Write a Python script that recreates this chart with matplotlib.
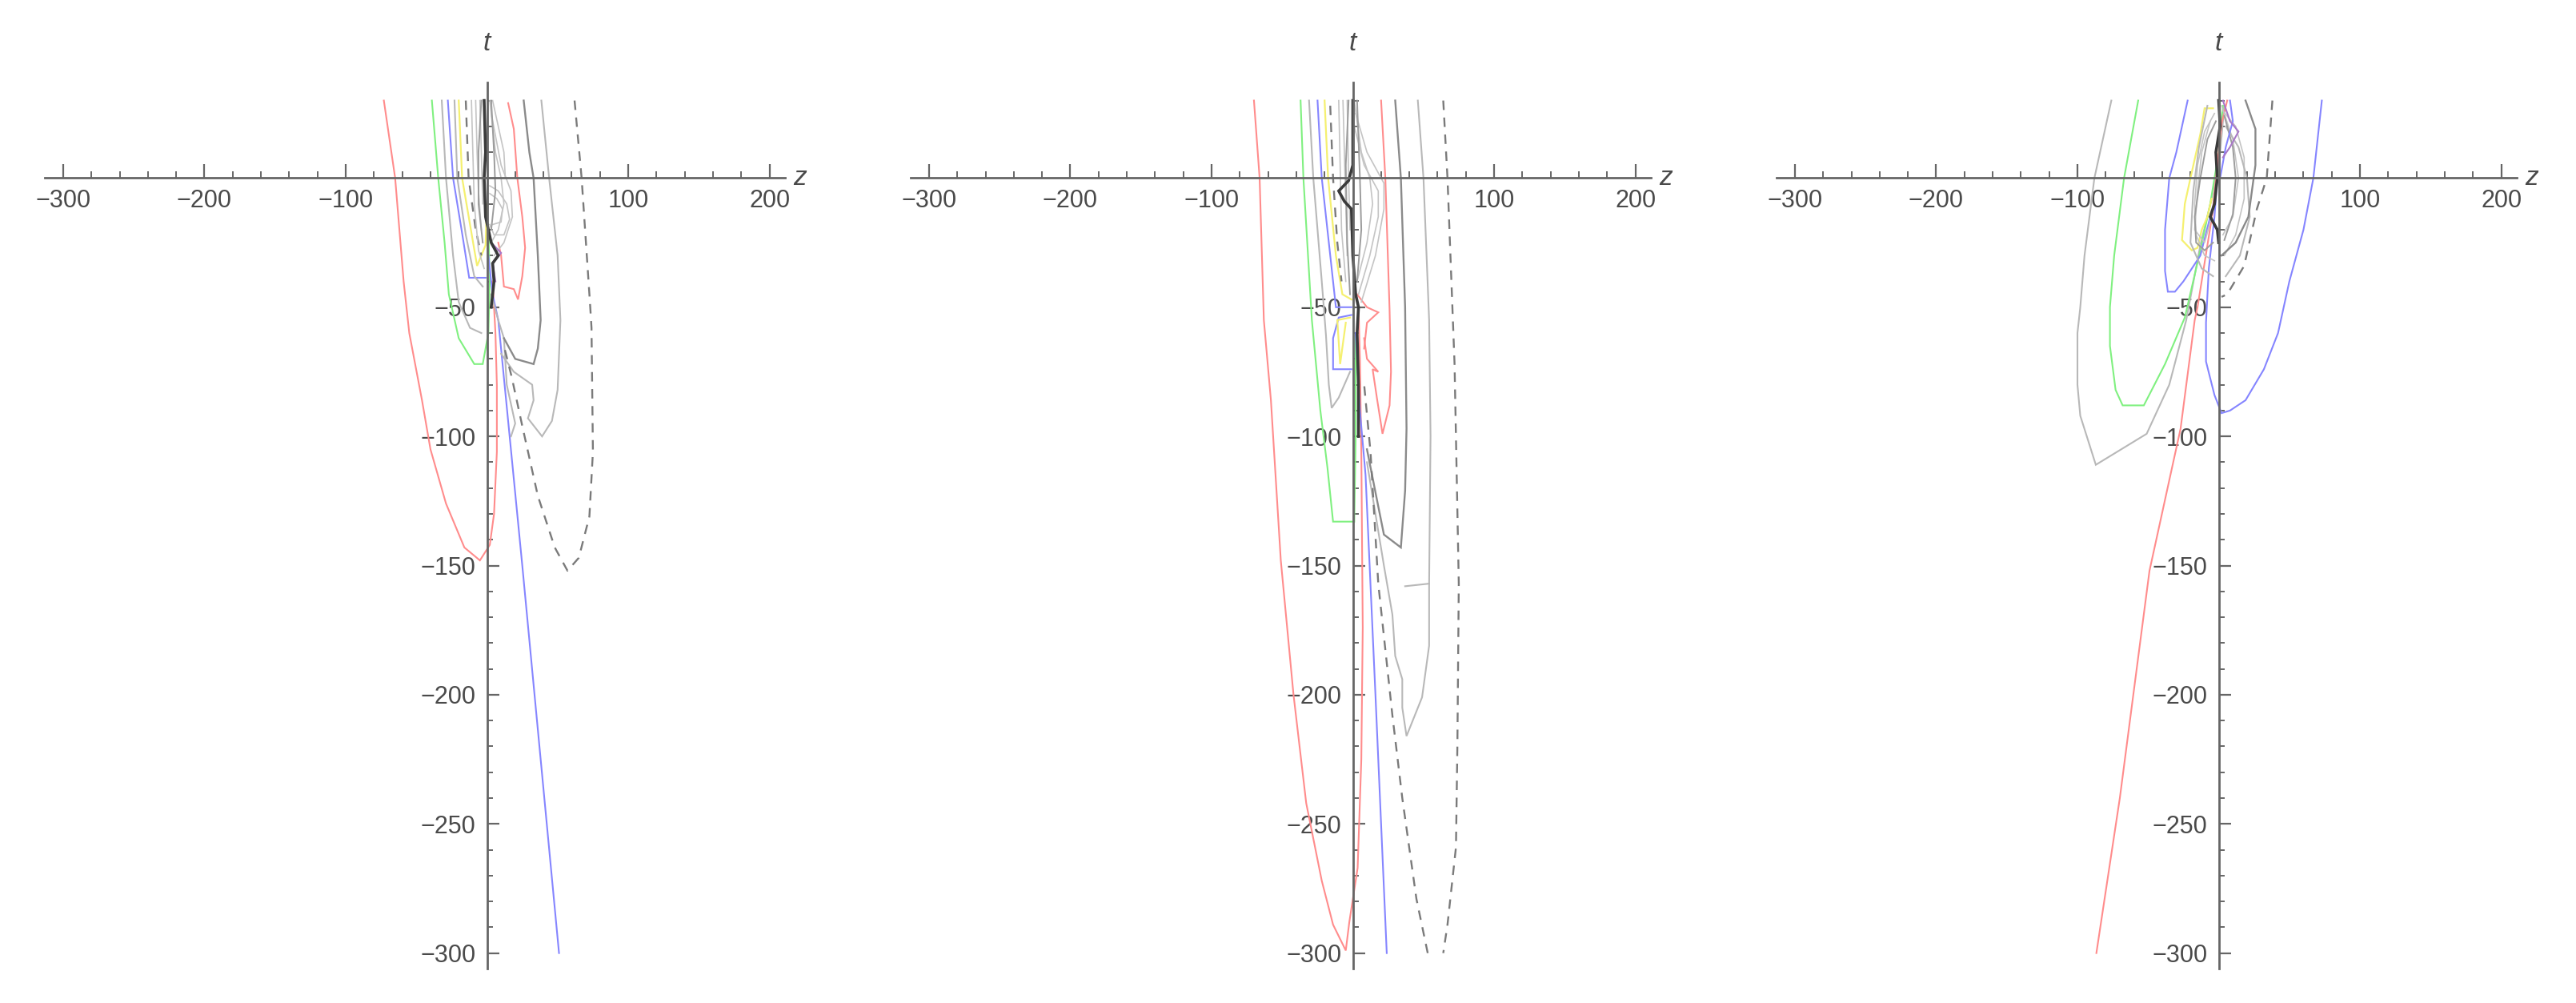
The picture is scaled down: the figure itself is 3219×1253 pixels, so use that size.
import matplotlib.pyplot as plt
from matplotlib.ticker import FixedLocator, NullFormatter

# ---------------------------------------------------------------
# contour lines, as (z, t) points
# ---------------------------------------------------------------

# --- panel 1 ---
p1_red_outer = [(-73, 30), (-65, 0), (-59, -40), (-55, -60), (-46, -86), (-40, -105), (-29, -126),
                (-16, -143), (-5, -148), (2, -142), (5, -130), (7, -106), (7, -80), (6, -60), (4, -40)]
p1_red_right = [(15, 29), (19, 19), (21.5, 0), (25, -15), (27, -27), (25, -38), (22, -47), (19, -43),
                (12, -42), (10, -30), (8, -25)]
p1_green = [(-39, 30), (-34.5, 0), (-30, -25), (-27, -45), (-20, -62), (-9, -72), (-3, -72), (1, -60),
            (2, -40), (1, -20)]
p1_blue_top = [(-27.7, 30), (-24, 0), (-18, -20), (-12.6, -38.6), (-1, -38.6)]
p1_blue_low = [(1, -30), (4, -45), (8, -55), (25, -150), (51, -300)]
p1_yellow = [(-20, 30), (-17.6, 0), (-12, -18), (-7, -34), (-1, -26), (0, -10)]
p1_gray_dark = [(26, 30), (30, 10), (33, 0), (36, -30), (38, -55), (36, -66), (33, -72), (20, -70), (12, -62)]
p1_gray_light = [(38.5, 30), (44, 0), (50, -30), (52, -55), (50, -82), (46, -94), (39, -100), (29, -93),
                 (33, -86), (32, -80), (19, -75), (10, -68)]
p1_dashed = [(62, 30), (67, 0), (73, -49), (74, -58), (75, -106), (72.5, -131), (65, -147), (57, -152),
             (48, -143), (36, -123), (25, -96), (17.5, -77), (12, -65)]
p1_gray_left_a = [(-32, 30), (-29, 0), (-24, -30), (-20, -48), (-12, -58), (-4, -60)]
p1_gray_left_b = [(-23, 30), (-21, 0), (-15, -22), (-9, -38), (-3, -42)]
p1_dashed_left = [(-15, 30), (-13, 0), (-8, -20), (-4, -30)]
p1_gray_c1 = [(2, 30), (6, 10), (10, 0), (12, -10), (8, -20), (3, -25)]
p1_gray_c2 = [(3, 25), (10, 5), (17, -5), (18, -15), (12, -25), (5, -30)]
p1_gray_c3 = [(-8, 30), (-7, 10), (-6, -5), (-4, -20)]
p1_gray_c4 = [(-11, 30), (-10, 10), (-9, -10), (-6, -28), (-2, -35)]
p1_gray_c5 = [(-5, 30), (-4, 10), (-3, -10)]
p1_gray_c6 = [(4, 30), (8, 20), (12, 10), (13, 0)]
p1_dark_a = [(-4, 30), (-6, 10), (-6, -10), (-3, -25)]
p1_dark_b = [(3, 30), (5, 10), (6, -5), (3, -20)]
p1_blob_a = [(2, -3), (8, -5), (14, -10), (16, -16), (12, -22), (5, -22), (2, -18)]
p1_blob_b = [(2, -6), (7, -8), (11, -12), (10, -17), (4, -18)]
p1_gray_low = [(3, -45), (8, -55), (12, -62), (14, -80), (20, -95), (17, -100)]
p1_black = [(-2, 30), (-1, 10), (-2, 0), (-1, -15), (3, -25), (8, -30), (4, -33), (5, -40), (3, -50)]
p1_purple = [(3, -25), (10, -29), (4, -33), (6, -40)]

# --- panel 2 ---
p2_red_outer = [(-70, 30), (-66, 0), (-63, -55), (-58, -86), (-51, -148), (-42, -200), (-33, -242),
                (-22, -272), (-14, -289), (-5, -299), (-2.5, -288), (3.4, -267), (6, -225), (7, -174),
                (6, -106), (5, -70), (4, -50)]
p2_red_right = [(20, 30), (23, 0), (26, -51), (27, -75), (26, -88), (21, -99), (17, -85), (14, -74),
                (18, -75), (10, -70), (8, -62)]
p2_red_star = [(3, -45), (10, -50), (18, -52), (10, -56), (8, -66)]
p2_green = [(-37, 30), (-35, 0), (-29, -55), (-23, -90), (-18, -112), (-14, -133), (1, -133), (2, -100),
            (2, -60)]
p2_blue_top = [(-25, 30), (-22, 0), (-17, -25), (-12, -50), (-1, -50)]
p2_blue_mid = [(-1, -53), (-10, -54), (-14, -62), (-14, -74), (-1, -74)]
p2_blue_low = [(2, -60), (5, -90), (9, -115), (16, -200), (24, -300)]
p2_yellow_top = [(-20, 30), (-17.5, 0), (-12, -30), (-7.4, -45), (-1, -47)]
p2_yellow_bot = [(-2, -54), (-11, -55), (-9, -72), (-5, -56)]
p2_gray_dark = [(30, 30), (34, 0), (37, -50), (38, -97), (37, -121), (34, -143), (22, -138),
                (16.5, -123), (10, -105)]
p2_gray_light_a = [(46, 30), (50, 0), (54, -55), (55, -100), (54, -157), (37, -158)]
p2_gray_light_b = [(54, -157), (54, -181), (49, -201), (38, -216), (35, -205), (35, -194), (30, -185),
                   (28, -169), (22, -150), (16, -130), (10, -110)]
p2_dashed = [(64, 30), (67, 0), (72, -72), (75, -157), (74, -220), (73, -259), (67, -289), (64, -300)]
p2_dashed_branch = [(53, -300), (45, -279), (35, -240), (28, -208), (18, -157), (12.5, -106), (8, -80)]
p2_gray_left = [(-31, 30), (-28, 0), (-22, -40), (-19, -61), (-17, -80), (-15, -89), (-10, -85), (-2, -75)]
p2_dashed_left = [(-16, 28), (-14, 0), (-11, -25), (-8, -40)]
p2_gray_c1 = [(1, 30), (6, 10), (12, 0), (14, -10), (10, -25), (3, -40)]
p2_gray_c2 = [(1, 20), (8, 5), (18, -5), (18, -15), (12, -30), (4, -45)]
p2_gray_c3 = [(-7, 30), (-6, 10), (-5, -10), (-4, -30)]
p2_gray_c4 = [(2, 25), (10, 10), (22, -2), (22, -12), (16, -30), (6, -48)]
p2_gray_c5 = [(-10, 30), (-9, 5), (-8, -20), (-5, -40)]
p2_gray_c6 = [(-4, 30), (-3, 0), (-2, -20)]
p2_dark_a = [(-3, 30), (-5, 5), (-4, -25), (-2, -45)]
p2_dark_b = [(3, 30), (5, 0), (6, -20), (3, -40)]
p2_black = [(0, 30), (0, 5), (-3, -1), (-10, -5), (-6, -9), (-1, -12), (0, -30), (2, -45), (4, -50),
            (3, -60), (4, -80), (4, -100)]

# --- panel 3 ---
p3_red = [(-86.6, -300), (-70, -240), (-49, -152), (-27, -97), (-17, -55), (-15, -50), (-4.5, -14),
          (2, 21), (6, 30)]
p3_green = [(-57, 30), (-67, 0), (-74, -30), (-77, -50), (-77, -65), (-73, -82), (-68, -88), (-53, -88),
            (-38, -72), (-24, -54), (-13, -28), (-6, -10), (0, 10), (3, 28)]
p3_gray_outer = [(-76, 30), (-88, 0), (-95, -30), (-98, -50), (-100, -60), (-100, -80), (-98, -92),
                 (-87, -111), (-51, -99), (-35, -80), (-23, -55), (-13, -26), (-5, -8), (1, 10), (4, 28)]
p3_blue_left = [(-22, 30), (-30, 10), (-35, 0), (-38, -20), (-38, -36), (-36, -44), (-31, -44),
                (-25, -40), (-13, -30), (-6, -15)]
p3_blue_right = [(73, 30), (67, 0), (60, -20), (50, -40), (42, -60), (32, -74), (19, -86), (8, -90),
                 (2, -91), (-3, -84), (-9, -71), (-9, -56), (-7, -35), (-3, -15), (-1, 0)]
p3_blue_top = [(1, 0), (5, 12), (10, 22), (8, 30)]
p3_yellow = [(-4, 27), (-10, 27), (-13, 17), (-20, 0), (-24, -10), (-26, -24), (-19, -28), (-15, -27),
             (-12, -20), (-8, -15), (-5, -8)]
p3_dashed = [(38, 30), (34, 0), (27, -12), (18, -34), (6, -45), (2, -46)]
p3_gray_right = [(19, 30), (26, 19), (26, 5), (21, -15), (12, -25), (2, -30)]
p3_gray_in = [(-6, 22), (-12, 10), (-15, -5), (-17, -20), (-10, -25), (-5, -15)]
p3_gray_c1 = [(2, 28), (10, 15), (14, 0), (10, -15), (3, -22)]
p3_loop_a = [(-3, 25), (-10, 18), (-15, 5), (-17, -10), (-16, -22), (-10, -30), (-3, -32)]
p3_loop_b = [(3, 26), (12, 20), (18, 8), (18, -8), (12, -22), (4, -30)]
p3_loop_c = [(5, 20), (14, 12), (20, 0), (22, -15), (15, -30), (5, -38)]
p3_gray_mid = [(-8, 28), (-14, 12), (-18, -5), (-20, -25), (-12, -35), (-4, -38)]
p3_dark_a = [(-2, 22), (-8, 15), (-13, 0), (-17, -15), (-16, -25), (-10, -28), (-4, -25)]
p3_dark_b = [(4, 24), (10, 12), (12, 0), (10, -14), (4, -24)]
p3_black = [(0, 30), (1, 20), (-2, 10), (-1, 0), (-3, -10), (-6, -15), (-1, -20), (0, -25)]
p3_purple = [(3, 30), (8, 22), (14, 18), (8, 12), (3, 8)]

# axis ticks
x_major = [-300, -200, -100, 100, 200]
x_minor = [v for v in range(-300, 201, 20) if v % 100 != 0]
y_major = [-300, -250, -200, -150, -100, -50]
y_minor = [v for v in range(-300, 31, 10) if v % 50 != 0]

STYLE = {
    'red': dict(color='#ff8c8c', lw=1.5, ls='-'),
    'green': dict(color='#80f080', lw=1.5, ls='-'),
    'blue': dict(color='#8585ff', lw=1.5, ls='-'),
    'yellow': dict(color='#f5f070', lw=1.6, ls='-'),
    'gdark': dict(color='#8a8a8a', lw=1.7, ls='-'),
    'gmid': dict(color='#9c9c9c', lw=1.4, ls='-'),
    'glight': dict(color='#b8b8b8', lw=1.5, ls='-'),
    'gpale': dict(color='#c4c4c4', lw=1.2, ls='-'),
    'dash': dict(color='#7a7a7a', lw=1.7, ls=(0, (5, 4))),
    'black': dict(color='#3a3a3a', lw=2.6, ls='-'),
    'purple': dict(color='#a878c8', lw=1.5, ls='-'),
}

panels = [
    [(p1_red_outer, 'red'), (p1_red_right, 'red'), (p1_green, 'green'), (p1_gray_left_a, 'glight'),
     (p1_blue_top, 'blue'), (p1_blue_low, 'blue'), (p1_gray_left_b, 'glight'), (p1_yellow, 'yellow'),
     (p1_dashed_left, 'dash'), (p1_gray_c1, 'gpale'), (p1_gray_c2, 'gpale'), (p1_gray_c3, 'gpale'),
     (p1_gray_c4, 'gpale'), (p1_gray_c5, 'gpale'), (p1_gray_c6, 'gpale'), (p1_blob_a, 'gpale'),
     (p1_blob_b, 'gpale'), (p1_dark_a, 'gmid'), (p1_dark_b, 'gmid'), (p1_gray_low, 'glight'),
     (p1_gray_dark, 'gdark'), (p1_gray_light, 'glight'), (p1_dashed, 'dash'), (p1_purple, 'purple'),
     (p1_black, 'black')],
    [(p2_red_outer, 'red'), (p2_red_right, 'red'), (p2_red_star, 'red'), (p2_green, 'green'),
     (p2_gray_left, 'glight'), (p2_blue_top, 'blue'), (p2_blue_mid, 'blue'), (p2_blue_low, 'blue'),
     (p2_yellow_top, 'yellow'), (p2_yellow_bot, 'yellow'), (p2_dashed_left, 'dash'),
     (p2_gray_c1, 'gpale'), (p2_gray_c2, 'gpale'), (p2_gray_c3, 'gpale'), (p2_gray_c4, 'gpale'),
     (p2_gray_c5, 'gpale'), (p2_gray_c6, 'gpale'), (p2_dark_a, 'gmid'), (p2_dark_b, 'gmid'),
     (p2_gray_dark, 'gdark'), (p2_gray_light_a, 'glight'), (p2_gray_light_b, 'glight'),
     (p2_dashed, 'dash'), (p2_dashed_branch, 'dash'), (p2_black, 'black')],
    [(p3_gray_outer, 'glight'), (p3_green, 'green'), (p3_red, 'red'), (p3_blue_left, 'blue'),
     (p3_blue_right, 'blue'), (p3_yellow, 'yellow'), (p3_gray_in, 'gpale'), (p3_gray_c1, 'gpale'),
     (p3_loop_a, 'gpale'), (p3_loop_b, 'gpale'), (p3_loop_c, 'glight'), (p3_gray_mid, 'glight'),
     (p3_dark_a, 'gmid'), (p3_dark_b, 'gmid'), (p3_gray_right, 'gdark'), (p3_dashed, 'dash'),
     (p3_blue_top, 'blue'), (p3_purple, 'purple'), (p3_black, 'black')],
]

W, H = 3219, 1253
fig = plt.figure(figsize=(W / 100, H / 100), dpi=100)
plt.rcParams['font.family'] = ['Liberation Sans', 'DejaVu Sans']

AX_COL = '#666666'
TXT_COL = '#4a4a4a'

for k, lines in enumerate(panels):
    left = 56 + 1082 * k
    ax = fig.add_axes([left / W, 43 / H, 925 / W, 1107 / H])
    ax.set_xlim(-313, 211)
    ax.set_ylim(-306, 37)

    for pts, key in lines:
        st = STYLE[key]
        zs = [p[0] for p in pts]
        ts = [p[1] for p in pts]
        ax.plot(zs, ts, color=st['color'], lw=st['lw'], linestyle=st['ls'],
                solid_joinstyle='miter', zorder=2)

    for side in ['top', 'right']:
        ax.spines[side].set_visible(False)
    ax.spines['left'].set_position(('data', 0))
    ax.spines['bottom'].set_position(('data', 0))
    for side in ['left', 'bottom']:
        ax.spines[side].set_color(AX_COL)
        ax.spines[side].set_linewidth(2.0)
        ax.spines[side].set_zorder(3)

    ax.xaxis.set_major_locator(FixedLocator(x_major))
    ax.xaxis.set_minor_locator(FixedLocator(x_minor))
    ax.yaxis.set_major_locator(FixedLocator(y_major))
    ax.yaxis.set_minor_locator(FixedLocator(y_minor))
    ax.xaxis.set_minor_formatter(NullFormatter())
    ax.yaxis.set_minor_formatter(NullFormatter())
    ax.set_xticklabels([str(v).replace('-', '\u2212') for v in x_major])
    ax.set_yticklabels([str(v).replace('-', '\u2212') for v in y_major])

    ax.tick_params(axis='x', which='major', direction='in', length=12, width=1.6,
                   color=AX_COL, labelsize=22, labelcolor=TXT_COL, pad=10)
    ax.tick_params(axis='x', which='minor', direction='in', length=6, width=1.4, color=AX_COL)
    ax.tick_params(axis='y', which='major', direction='in', length=11, width=1.6,
                   color=AX_COL, labelsize=22, labelcolor=TXT_COL, pad=10)
    ax.tick_params(axis='y', which='minor', direction='in', length=5, width=1.4, color=AX_COL)

    ax.text(217, 0, 'z', style='italic', fontsize=24, color=TXT_COL, ha='left', va='center',
            clip_on=False)
    ax.text(0, 52, 't', style='italic', fontsize=24, color=TXT_COL, ha='center', va='center',
            clip_on=False)
    ax.patch.set_alpha(0)

fig.savefig('out.png', dpi=100)
